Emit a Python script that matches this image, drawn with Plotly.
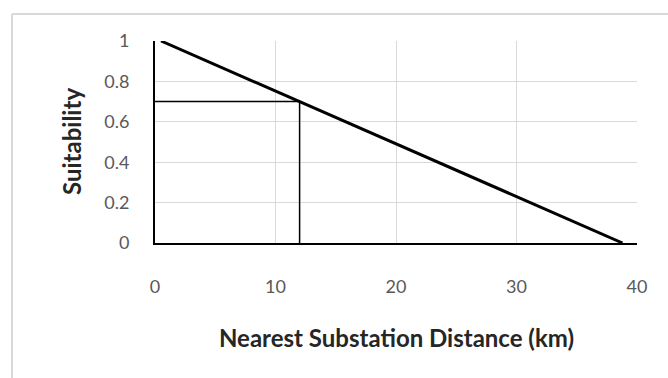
"""Suitability vs nearest substation distance."""

import plotly.graph_objects as go

# data
distance_km = [0.5, 38.8]
suitability = [1.0, 0.0]

marker_x = 12
marker_y = 0.7

x_ticks = [0, 10, 20, 30, 40]
y_ticks = [0, 0.2, 0.4, 0.6, 0.8, 1]
y_tick_text = ["0", "0.2", "0.4", "0.6", "0.8", "1"]

W, H = 668, 378
L, R, T, B = 155, 31, 41, 135
pw, ph = W - L - R, H - T - B


def px_x(sx):
    # screen x pixel -> paper x
    return (sx - L) / pw


def px_y(sy):
    # screen y pixel -> paper y
    return (H - B - sy) / ph


FONT = "Lato, 'Open Sans', sans-serif"
GRID = "#d9d9d9"
TICK = "#595959"

fig = go.Figure()

# reference lines for the 12 km reading
fig.add_trace(go.Scatter(
    x=[0, marker_x, marker_x], y=[marker_y, marker_y, 0],
    mode="lines", line=dict(color="black", width=1.5),
    hoverinfo="skip", showlegend=False,
))
fig.add_trace(go.Scatter(
    x=distance_km, y=suitability,
    mode="lines", line=dict(color="black", width=3),
    showlegend=False,
))

fig.update_xaxes(
    range=[0, 40], tickvals=x_ticks,
    showgrid=True, gridcolor=GRID, gridwidth=1,
    showline=True, linecolor="black", linewidth=2,
    zeroline=False, ticks="", ticklabelstandoff=26,
    tickfont=dict(family=FONT, size=18, color=TICK),
)
fig.update_yaxes(
    range=[0, 1], tickvals=y_ticks, ticktext=y_tick_text,
    showgrid=True, gridcolor=GRID, gridwidth=1,
    showline=True, linecolor="black", linewidth=2,
    zeroline=False, ticks="", ticklabelstandoff=20,
    tickfont=dict(family=FONT, size=18, color=TICK),
)

# outer chart border: only top and left edges are in view
fig.add_shape(
    type="line", xref="paper", yref="paper",
    x0=px_x(12), x1=px_x(W), y0=px_y(14), y1=px_y(14),
    line=dict(color=GRID, width=2), layer="below",
)
fig.add_shape(
    type="line", xref="paper", yref="paper",
    x0=px_x(12), x1=px_x(12), y0=px_y(14), y1=px_y(H),
    line=dict(color=GRID, width=2), layer="below",
)

fig.add_annotation(
    text="<b>Suitability</b>", xref="paper", yref="paper",
    x=px_x(71), y=px_y(142), xanchor="center", yanchor="middle",
    textangle=-90, showarrow=False,
    font=dict(family=FONT, size=24, color="#262626"),
)
fig.add_annotation(
    text="<b>Nearest Substation Distance (km)</b>", xref="paper", yref="paper",
    x=px_x(396), y=px_y(337), xanchor="center", yanchor="middle",
    showarrow=False,
    font=dict(family=FONT, size=24, color="#262626"),
)

fig.update_layout(
    width=W, height=H,
    margin=dict(l=L, r=R, t=T, b=B),
    paper_bgcolor="white", plot_bgcolor="white",
)

fig.write_html(
    "out.html",
    config={"displayModeBar": False},
    post_script="document.body.style.margin = '0';",
)
